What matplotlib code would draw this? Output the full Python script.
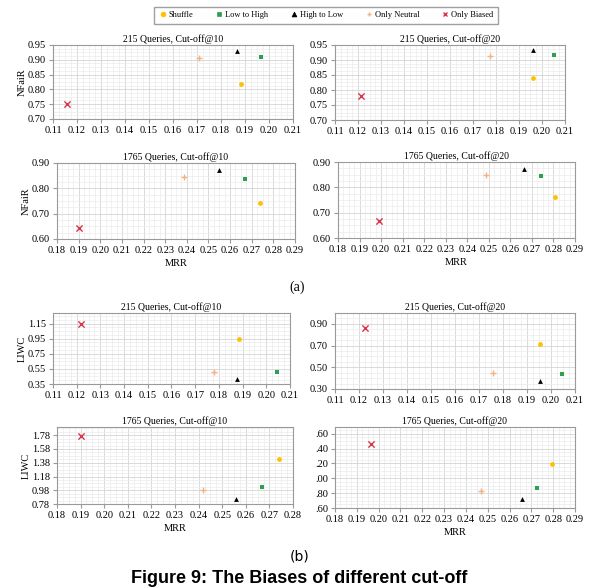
import numpy as np
import matplotlib
matplotlib.use('Agg')
import matplotlib.pyplot as plt
from matplotlib.ticker import AutoMinorLocator
from matplotlib.lines import Line2D

plt.rcParams['font.family'] = ['Liberation Serif', 'DejaVu Serif']

# series order: Shuffle, Low to High, High to Low, Only Neutral, Only Biased
series = ['Shuffle', 'Low to High', 'High to Low', 'Only Neutral', 'Only Biased']
colors = ['#FFC000', '#2E9E4F', '#000000', '#F4B183', '#D8354A']
markers = ['o', 's', '^', '+', 'x']

# (a) NFaiR vs MRR
mrr_215_10 = [0.1885, 0.1965, 0.1865, 0.171, 0.116]
nfair_215_10 = [0.817, 0.910, 0.930, 0.907, 0.750]
mrr_215_20 = [0.196, 0.205, 0.196, 0.1775, 0.1215]
nfair_215_20 = [0.839, 0.917, 0.933, 0.913, 0.780]
mrr_1765_10 = [0.274, 0.267, 0.255, 0.2385, 0.190]
nfair_1765_10 = [0.744, 0.837, 0.871, 0.843, 0.642]
mrr_1765_20 = [0.2805, 0.2743, 0.2665, 0.2489, 0.1992]
nfair_1765_20 = [0.761, 0.846, 0.874, 0.849, 0.668]

# (b) LIWC vs MRR
mrr_215_10b = [0.1885, 0.2044, 0.1877, 0.178, 0.122]
liwc_215_10 = [0.945, 0.505, 0.410, 0.505, 1.140]
mrr_215_20b = [0.1956, 0.2047, 0.1953, 0.176, 0.1225]
liwc_215_20 = [0.710, 0.440, 0.370, 0.450, 0.860]
mrr_1765_10b = [0.2741, 0.2670, 0.2558, 0.242, 0.1903]
liwc_1765_10 = [1.434, 1.025, 0.857, 0.977, 1.770]
mrr_1765_20b = [0.2794, 0.2728, 0.2658, 0.247, 0.1966]
liwc_1765_20 = [1.196, 0.869, 0.726, 0.829, 1.465]

W, H = 599, 588
fig = plt.figure(figsize=(W / 100, H / 100), dpi=100)


def box(x0, y0, x1, y1):
    # pixel box -> figure fraction
    return [x0 / W, 1 - y1 / H, (x1 - x0) / W, (y1 - y0) / H]


def panel(rect, xs, ys, title, xlim, ylim, yticks, ylabels, ylabel=None, xlabel=None):
    ax = fig.add_axes(rect)
    for i in range(len(series)):
        lw = 1.0 if markers[i] in '+x' else 0
        s = 20 if markers[i] in '+x' else 12
        ax.scatter(xs[i], ys[i], color=colors[i], marker=markers[i], s=s,
                   linewidths=lw, zorder=3)
    ax.set_xlim(xlim)
    ax.set_ylim(ylim)
    xt = np.arange(xlim[0], xlim[1] + 0.0001, 0.01)
    ax.set_xticks(xt)
    ax.set_xticklabels(['%.2f' % v for v in xt])
    ax.set_yticks(yticks)
    ax.set_yticklabels(ylabels)
    ax.xaxis.set_minor_locator(AutoMinorLocator(4))
    ax.yaxis.set_minor_locator(AutoMinorLocator(4))
    ax.grid(True, which='major', color='#d4d4d4', lw=0.6)
    ax.grid(True, which='minor', color='#ececec', lw=0.5)
    ax.set_axisbelow(True)
    for sp in ax.spines.values():
        sp.set_color('#9a9a9a')
        sp.set_linewidth(0.8)
    ax.tick_params(which='major', labelsize=7.5, length=3, color='#9a9a9a', pad=2)
    ax.tick_params(which='minor', length=0)
    ax.set_title(title, fontsize=7, pad=2)
    if ylabel:
        ax.set_ylabel(ylabel, fontsize=7.5, labelpad=1)
    if xlabel:
        ax.set_xlabel(xlabel, fontsize=7.5, labelpad=3)
    return ax


def fmt(vals):
    return ['%.2f' % v for v in vals]


t1 = [0.70, 0.75, 0.80, 0.85, 0.90, 0.95]
t2 = [0.60, 0.70, 0.80, 0.90]
panel(box(53, 45, 293, 119), mrr_215_10, nfair_215_10, '215 Queries, Cut-off@10',
      (0.11, 0.21), (0.70, 0.95), t1, fmt(t1), ylabel='NFaiR')
panel(box(335, 45, 565, 120), mrr_215_20, nfair_215_20, '215 Queries, Cut-off@20',
      (0.11, 0.21), (0.70, 0.95), t1, fmt(t1))
panel(box(57, 163, 295, 239), mrr_1765_10, nfair_1765_10, '1765 Queries, Cut-off@10',
      (0.18, 0.29), (0.60, 0.90), t2, fmt(t2), ylabel='NFaiR', xlabel='MRR')
panel(box(338, 162, 575, 238), mrr_1765_20, nfair_1765_20, '1765 Queries, Cut-off@20',
      (0.18, 0.29), (0.60, 0.90), t2, fmt(t2), xlabel='MRR')

t3 = [0.35, 0.55, 0.75, 0.95, 1.15]
t4 = [0.30, 0.50, 0.70, 0.90]
t5 = [0.78, 0.98, 1.18, 1.38, 1.58, 1.78]
t6 = [0.60, 0.80, 1.00, 1.20, 1.40, 1.60]
panel(box(53, 313, 290, 384), mrr_215_10b, liwc_215_10, '215 Queries, Cut-off@10',
      (0.11, 0.21), (0.35, 1.29), t3, fmt(t3), ylabel='LIWC')
panel(box(335, 313, 575, 389), mrr_215_20b, liwc_215_20, '215 Queries, Cut-off@20',
      (0.11, 0.21), (0.30, 1.00), t4, fmt(t4))
panel(box(57, 427, 293, 504), mrr_1765_10b, liwc_1765_10, '1765 Queries, Cut-off@10',
      (0.18, 0.28), (0.78, 1.90), t5, fmt(t5), ylabel='LIWC', xlabel='MRR')
# left part of these labels is cut off in the source figure
panel(box(335, 427, 575, 508), mrr_1765_20b, liwc_1765_20, '1765 Queries, Cut-off@20',
      (0.18, 0.29), (0.60, 1.69), t6, [('%.2f' % v)[1:] for v in t6], xlabel='MRR')

# shared legend on top
handles = []
for i in range(len(series)):
    handles.append(Line2D([], [], ls='none', marker=markers[i], color=colors[i],
                          markersize=3.5, markeredgewidth=1.0 if markers[i] in '+x' else 0.5,
                          label=series[i]))
fig.legend(handles=handles, loc='upper center', bbox_to_anchor=(326 / W, 1 - 3 / H),
           ncol=5, fontsize=6, frameon=True, fancybox=False, edgecolor='#888888',
           handletextpad=0.2, columnspacing=2.6, handlelength=1.0, borderpad=0.5)

fig.text(297 / W, 1 - 287 / H, '(a)', ha='center', va='center', fontsize=10)
fig.text(300 / W, 1 - 556 / H, '(b)', ha='center', va='center', fontsize=10,
         family='DejaVu Sans')
fig.text(W / 2 / W, 1 - 587 / H, 'Figure 9: The Biases of different cut-off', ha='center',
         va='bottom', fontsize=13, fontweight='bold', family='Liberation Sans')

fig.savefig('out.png', dpi=100)
